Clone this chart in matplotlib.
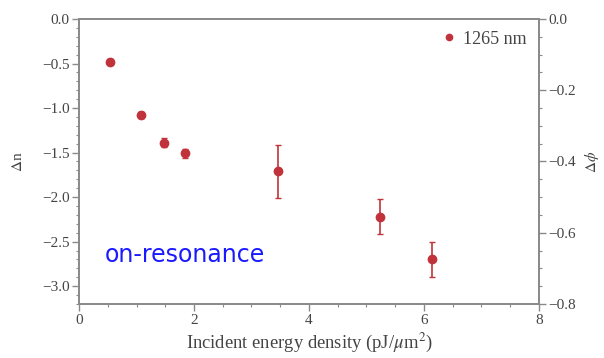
import matplotlib
matplotlib.use("Agg")
import matplotlib.pyplot as plt
from matplotlib.lines import Line2D
from matplotlib.ticker import MultipleLocator

# Measured refractive index change vs incident energy density
energy = [0.54, 1.08, 1.48, 1.84, 3.47, 5.24, 6.14]
delta_n = [-0.48, -1.08, -1.39, -1.51, -1.71, -2.22, -2.70]
delta_n_err = [0.03, 0.03, 0.05, 0.05, 0.30, 0.20, 0.20]
series_label = "1265 nm"

red = "#c0333a"
gray = "#8a8a8a"
tick_color = "#444444"

plt.rcParams["font.family"] = ["Liberation Serif", "DejaVu Serif"]
plt.rcParams["mathtext.fontset"] = "stix"

fig = plt.figure(figsize=(6.04, 3.58), dpi=100)
ax = fig.add_axes([0.131, 0.151, 0.761, 0.796])

ax.errorbar(energy, delta_n, yerr=delta_n_err, fmt="o", color=red,
            ms=6, elinewidth=1.2, capsize=2.5, capthick=1.0)

ax.set_xlim(0, 8)
ax.set_ylim(-3.2, 0)
ax.xaxis.set_major_locator(MultipleLocator(2))
ax.xaxis.set_minor_locator(MultipleLocator(0.5))
ax.yaxis.set_major_locator(MultipleLocator(0.5))
ax.yaxis.set_minor_locator(MultipleLocator(0.1))

ax.set_xlabel(r"Incident energy density (pJ/$\mu$m$^2$)", fontsize=13.4,
              color=tick_color, labelpad=3)
ax.set_ylabel(r"$\Delta$n", fontsize=11, color=tick_color, labelpad=12)

ax2 = ax.twinx()
ax2.set_ylim(-0.8, 0)
ax2.yaxis.set_major_locator(MultipleLocator(0.2))
ax2.yaxis.set_minor_locator(MultipleLocator(0.05))
ax2.set_ylabel(r"$\Delta\phi$", fontsize=11, color=tick_color, labelpad=5)

for a in (ax, ax2):
    for s in a.spines.values():
        s.set_color(gray)
        s.set_linewidth(1.3)
    a.tick_params(which="major", direction="out", length=5, width=1.0,
                  color=gray, labelcolor=tick_color, labelsize=11, pad=2)
    a.tick_params(which="minor", direction="out", length=2.5, width=0.8,
                  color=gray)

ax.tick_params(axis="x", which="both", top=False)

ax.text(0.45, -2.65, "on-resonance", family="DejaVu Sans", fontsize=17,
        color="#1a1aff", va="center", ha="left")

handle = Line2D([], [], marker="o", ls="", color=red, ms=4.5)
leg = ax.legend([handle], [series_label], loc="upper right", frameon=False,
                fontsize=13, handletextpad=0.2, handlelength=1.2,
                borderaxespad=0.25)
for t in leg.get_texts():
    t.set_color(tick_color)

fig.savefig("out.png", dpi=100)
